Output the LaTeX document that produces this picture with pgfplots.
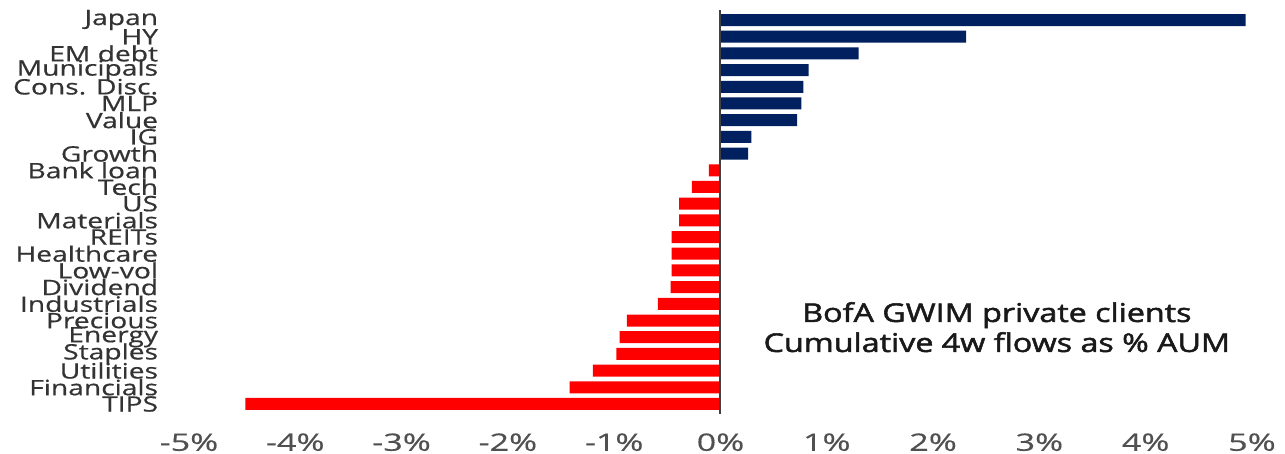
\documentclass[border=0pt]{standalone}
\usepackage{fontspec}
\usepackage{pgfplots}
\pgfplotsset{compat=1.18}
\newfontfamily\labfont[FakeStretch=1.33,FakeBold=0.6]{Open Sans}
\newfontfamily\tickfont[FakeStretch=1.42,FakeBold=0.4]{Open Sans}
\newfontfamily\annfont[FakeStretch=1.25,FakeBold=2]{Open Sans}
\definecolor{navy}{HTML}{002060}
\definecolor{bred}{HTML}{FF0000}
\definecolor{labgray}{HTML}{333333}
\definecolor{tickgray}{HTML}{505050}
\begin{document}
\begin{tikzpicture}
\path[use as bounding box] (-94.5pt,-20pt) rectangle (548pt,207pt);
\begin{axis}[
  at={(0,0)}, anchor=south west,
  scale only axis, width=531.5pt, height=202pt,
  xbar, bar width=6pt, bar shift=0pt,
  xmin=-5, xmax=5, ymin=-0.6, ymax=23.6, y dir=reverse,
  ytick={0,...,23},
  yticklabels={Japan,HY,EM debt,Municipals,Cons. Disc.,MLP,Value,IG,Growth,Bank loan,Tech,US,Materials,REITs,Healthcare,Low-vol,Dividend,Industrials,Precious,Energy,Staples,Utilities,Financials,TIPS},
  xtick={-5,...,5},
  xticklabels={-5\%,-4\%,-3\%,-2\%,-1\%,0\%,1\%,2\%,3\%,4\%,5\%},
  axis line style={draw=none}, tick style={draw=none},
  yticklabel style={font=\labfont\fontsize{10.6}{10.6}\selectfont, text=labgray, inner sep=0pt, anchor=east, xshift=-11pt},
  xticklabel style={font=\tickfont\fontsize{12}{12}\selectfont, text=tickgray, inner sep=0pt, anchor=north, yshift=-9.5pt},
  clip=false,
]
\addplot[fill=navy, draw=none] coordinates {(4.94,0) (2.31,1) (1.30,2) (0.83,3) (0.78,4) (0.76,5) (0.72,6) (0.29,7) (0.26,8)};
\addplot[fill=bred, draw=none] coordinates {(-0.11,9) (-0.27,10) (-0.39,11) (-0.39,12) (-0.46,13) (-0.46,14) (-0.46,15) (-0.47,16) (-0.59,17) (-0.88,18) (-0.95,19) (-0.98,20) (-1.20,21) (-1.42,22) (-4.47,23)};
\draw[color=black!75, line width=1pt] (axis cs:0,-0.6) -- (axis cs:0,23.6);
\node[align=center, font=\annfont\fontsize{12.9}{15}\selectfont, text=black!90] at (axis cs:2.6,18.4) {BofA GWIM private clients\\Cumulative 4w flows as \% AUM};
\end{axis}
\end{tikzpicture}
\end{document}
